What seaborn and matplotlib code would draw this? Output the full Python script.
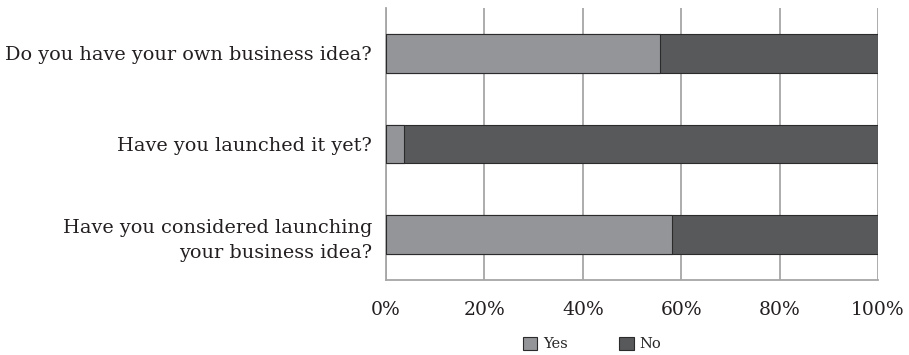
import pandas as pd
import seaborn as sns
import matplotlib.pyplot as plt
from matplotlib.patches import Patch

questions = ['Do you have your own business idea?',
             'Have you launched it yet?',
             'Have you considered launching\nyour business idea?']
yes = [55.7, 3.7, 58.1]
no = [44.3, 96.3, 41.9]

d = pd.DataFrame({'question': questions, 'Yes': yes, 'No': no})
d['total'] = d['Yes'] + d['No']

sns.set_style('white')
plt.rcParams['font.family'] = ['DejaVu Serif']

yes_col = '#939598'
no_col = '#58595b'
grid_col = '#a6a6a6'

fig = plt.figure(figsize=(9.09, 3.55), dpi=100)
ax = fig.add_axes([386 / 909, 1 - 280 / 355, 492 / 909, 272 / 355])

# stacked: total (No) underneath, Yes on top
sns.barplot(data=d, y='question', x='total', color=no_col, orient='h', width=0.43,
            edgecolor='#2b2b2b', linewidth=0.8, saturation=1, ax=ax, zorder=3)
sns.barplot(data=d, y='question', x='Yes', color=yes_col, orient='h', width=0.43,
            edgecolor='#2b2b2b', linewidth=0.8, saturation=1, ax=ax, zorder=4)

ax.set_xlim(0, 100)
ax.set_ylim(2.5, -0.5)
ax.set_xticks([0, 20, 40, 60, 80, 100])
ax.set_xticklabels(['0%', '20%', '40%', '60%', '80%', '100%'], fontsize=13.5, color='#231f20')
ax.xaxis.grid(True, color=grid_col, linewidth=1.3, zorder=0)
ax.set_axisbelow(True)
ax.set_xlabel('')
ax.set_ylabel('')

ax.set_yticks([0, 1, 2])
ax.set_yticklabels(questions, fontsize=13.9, color='#231f20', linespacing=1.55)
ax.set_yticks([-0.5, 0.5, 1.5, 2.5], minor=True)
ax.tick_params(axis='y', which='major', length=0, pad=10)
ax.tick_params(axis='y', which='minor', length=7, width=1.2, color=grid_col, direction='out')
ax.tick_params(axis='x', length=7, width=1.2, color=grid_col, direction='out', pad=8)

for s in ['top', 'right']:
    ax.spines[s].set_visible(False)
for s in ['left', 'bottom']:
    ax.spines[s].set_color(grid_col)
    ax.spines[s].set_linewidth(1.3)

handles = [Patch(facecolor=yes_col, edgecolor='#2b2b2b', linewidth=0.8, label='Yes'),
           Patch(facecolor=no_col, edgecolor='#2b2b2b', linewidth=0.8, label='No')]
fig.legend(handles=handles, loc='center', bbox_to_anchor=(592 / 909, 1 - 344 / 355),
           ncol=2, frameon=False, fontsize=10.5, handlelength=1.0, handleheight=1.0,
           columnspacing=3.5, handletextpad=0.4)

fig.savefig('out.png', dpi=100)
